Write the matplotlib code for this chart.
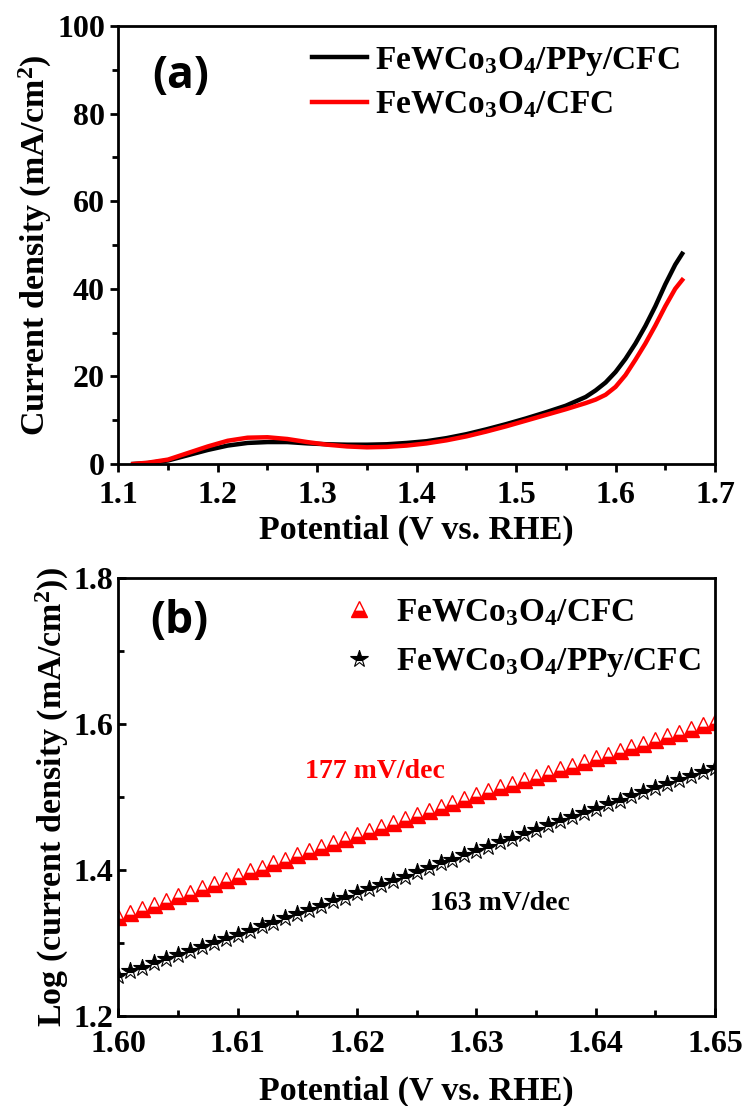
import matplotlib
matplotlib.use("Agg")
import matplotlib.pyplot as plt
from matplotlib.ticker import MultipleLocator, FormatStrFormatter

# ---- data ----
# (a) LSV curves
pot_a = [1.115, 1.13, 1.15, 1.17, 1.19, 1.21, 1.23, 1.25, 1.27, 1.29, 1.31, 1.33,
         1.35, 1.37, 1.39, 1.41, 1.43, 1.45, 1.47, 1.49, 1.51, 1.53, 1.55, 1.57,
         1.58, 1.59, 1.60, 1.61, 1.62, 1.63, 1.64, 1.65, 1.66, 1.667]
j_ppy = [0, 0.2, 0.8, 2.0, 3.2, 4.2, 4.8, 5.0, 5.0, 4.7, 4.5, 4.4,
         4.4, 4.5, 4.8, 5.2, 5.9, 6.8, 7.9, 9.1, 10.4, 11.8, 13.3, 15.3,
         16.8, 18.6, 21.0, 24.0, 27.5, 31.5, 36.0, 41.0, 45.5, 48.0]
j_cfc = [0, 0.3, 1.0, 2.5, 4.0, 5.3, 6.0, 6.1, 5.7, 5.0, 4.4, 4.0,
         3.8, 3.9, 4.2, 4.7, 5.4, 6.3, 7.4, 8.6, 9.9, 11.2, 12.5, 13.9,
         14.7, 15.8, 17.6, 20.3, 23.8, 27.5, 31.6, 36.0, 40.0, 42.0]

# (b) Tafel region
pot_b = [1.600, 1.601, 1.602, 1.603, 1.604, 1.605, 1.606, 1.607, 1.608, 1.609,
         1.610, 1.611, 1.612, 1.613, 1.614, 1.615, 1.616, 1.617, 1.618, 1.619,
         1.620, 1.621, 1.622, 1.623, 1.624, 1.625, 1.626, 1.627, 1.628, 1.629,
         1.630, 1.631, 1.632, 1.633, 1.634, 1.635, 1.636, 1.637, 1.638, 1.639,
         1.640, 1.641, 1.642, 1.643, 1.644, 1.645, 1.646, 1.647, 1.648, 1.649,
         1.650]
log_cfc = [1.335, 1.341, 1.347, 1.352, 1.358, 1.364, 1.369, 1.375, 1.381, 1.386,
           1.392, 1.398, 1.403, 1.409, 1.414, 1.420, 1.426, 1.431, 1.437, 1.442,
           1.448, 1.453, 1.459, 1.464, 1.470, 1.475, 1.481, 1.486, 1.492, 1.497,
           1.503, 1.508, 1.513, 1.518, 1.523, 1.528, 1.533, 1.538, 1.543, 1.548,
           1.553, 1.558, 1.563, 1.568, 1.573, 1.578, 1.583, 1.588, 1.593, 1.598,
           1.603]
log_ppy = [1.255, 1.261, 1.266, 1.272, 1.278, 1.283, 1.289, 1.294, 1.300, 1.306,
           1.311, 1.317, 1.323, 1.328, 1.334, 1.340, 1.345, 1.351, 1.357, 1.362,
           1.368, 1.374, 1.380, 1.385, 1.391, 1.397, 1.403, 1.409, 1.414, 1.420,
           1.426, 1.432, 1.438, 1.443, 1.449, 1.455, 1.461, 1.467, 1.472, 1.478,
           1.484, 1.490, 1.495, 1.501, 1.507, 1.512, 1.518, 1.523, 1.529, 1.534,
           1.540]

LBL_PPY = r"FeWCo$_3$O$_4$/PPy/CFC"
LBL_CFC = r"FeWCo$_3$O$_4$/CFC"

# ---- style ----
plt.rcParams["font.family"] = "Liberation Serif"
plt.rcParams["font.weight"] = "bold"
plt.rcParams["axes.labelweight"] = "bold"
plt.rcParams["mathtext.fontset"] = "custom"
plt.rcParams["mathtext.rm"] = "Liberation Serif:bold"
plt.rcParams["mathtext.default"] = "rm"
plt.rcParams["axes.linewidth"] = 2.0

TICK_FS = 23
LAB_FS = 24.5
LEG_FS = 24

fig = plt.figure(figsize=(7.44, 11.06), dpi=100)
ax1 = fig.add_axes([0.159, 0.5805, 0.802, 0.396])
ax2 = fig.add_axes([0.159, 0.0814, 0.802, 0.396])

# ---- (a) ----
ax1.plot(pot_a, j_ppy, color="black", lw=3.2, label=LBL_PPY)
ax1.plot(pot_a, j_cfc, color="red", lw=3.2, label=LBL_CFC)
ax1.set_xlim(1.1, 1.7)
ax1.set_ylim(0, 100)
ax1.xaxis.set_major_locator(MultipleLocator(0.1))
ax1.xaxis.set_minor_locator(MultipleLocator(0.05))
ax1.yaxis.set_major_locator(MultipleLocator(20))
ax1.yaxis.set_minor_locator(MultipleLocator(10))
ax1.tick_params(which="both", direction="out", width=2, labelsize=TICK_FS)
ax1.tick_params(which="major", length=6)
ax1.tick_params(which="minor", length=4)
ax1.tick_params(axis="x", pad=6)
ax1.set_xlabel("Potential (V vs. RHE)", fontsize=LAB_FS, labelpad=4)
ax1.set_ylabel(r"Current density (mA/cm$^2$)", fontsize=LAB_FS, labelpad=2)
ax1.text(1.163, 88.5, "(a)", fontsize=32, fontweight="bold", family="Open Sans",
         ha="center", va="center")
ax1.legend(loc="upper left", bbox_to_anchor=(0.296, 0.995), frameon=False,
           borderpad=0, fontsize=LEG_FS, handlelength=1.65, handletextpad=0.25,
           labelspacing=0.35)

# ---- (b) ----
ax2.plot(pot_b, log_cfc, ls="none", marker="^", ms=11, fillstyle="bottom",
         mfc="red", mec="red", mew=1.0, label=LBL_CFC)
ax2.plot(pot_b, log_ppy, ls="none", marker="*", ms=13, fillstyle="top",
         mfc="black", mec="black", markerfacecoloralt="white", mew=0.8,
         label=LBL_PPY)
ax2.set_xlim(1.60, 1.65)
ax2.set_ylim(1.2, 1.8)
ax2.xaxis.set_major_locator(MultipleLocator(0.01))
ax2.xaxis.set_minor_locator(MultipleLocator(0.005))
ax2.yaxis.set_major_locator(MultipleLocator(0.2))
ax2.yaxis.set_minor_locator(MultipleLocator(0.1))
ax2.xaxis.set_major_formatter(FormatStrFormatter("%.2f"))
ax2.yaxis.set_major_formatter(FormatStrFormatter("%.1f"))
ax2.tick_params(which="both", direction="in", width=2, labelsize=TICK_FS)
ax2.tick_params(which="major", length=6)
ax2.tick_params(which="minor", length=4)
ax2.tick_params(axis="x", pad=10)
ax2.set_xlabel("Potential (V vs. RHE)", fontsize=LAB_FS, labelpad=12)
ax2.set_ylabel(r"Log (current density (mA/cm$^2$))", fontsize=LAB_FS, labelpad=2)
ax2.text(1.6051, 1.74, "(b)", fontsize=32, fontweight="bold", family="Open Sans",
         ha="center", va="center")
ax2.text(1.6215, 1.535, "177 mV/dec", color="red", fontsize=20, ha="center", va="center")
ax2.text(1.632, 1.354, "163 mV/dec", color="black", fontsize=20, ha="center", va="center")
ax2.legend(loc="upper left", bbox_to_anchor=(0.348, 0.995), frameon=False,
           borderpad=0, fontsize=LEG_FS, handlelength=1.0, handletextpad=0.6,
           labelspacing=0.55, numpoints=1)

fig.savefig("out.png", dpi=100, facecolor="white")
